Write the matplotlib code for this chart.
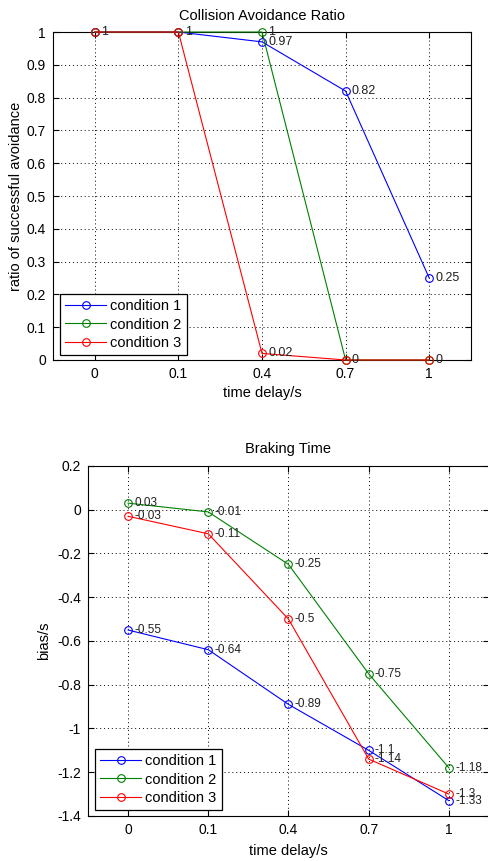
import matplotlib
matplotlib.use("Agg")
import matplotlib.pyplot as plt

OUT_PNG = "out.png"

DELAY_LABELS = ["0", "0.1", "0.4", "0.7", "1"]
SERIES_NAMES = ["condition 1", "condition 2", "condition 3"]
SERIES_COLORS = ["#0000ff", "#008000", "#ff0000"]

# collision avoidance ratio
RATIO_C1 = [1, 1, 0.97, 0.82, 0.25]
RATIO_C2 = [1, 1, 1, 0, 0]
RATIO_C3 = [1, 1, 0.02, 0, 0]

# braking time bias
BIAS_C1 = [-0.55, -0.64, -0.89, -1.1, -1.33]
BIAS_C2 = [0.03, -0.01, -0.25, -0.75, -1.18]
BIAS_C3 = [-0.03, -0.11, -0.5, -1.14, -1.3]

plt.rcParams['font.family'] = ['Liberation Sans', 'DejaVu Sans']


def style_axes(ax):
    ax.grid(True, color='black', linestyle=(0, (1, 3)), linewidth=0.7)
    ax.tick_params(direction='in', top=True, right=True, length=4,
                   labelsize=10, pad=5, color='black')
    for s in ax.spines.values():
        s.set_linewidth(0.8)
    ax.set_axisbelow(True)


def draw_series(ax, series, label_size):
    xs = list(range(len(DELAY_LABELS)))
    for vals, name, col in zip(series, SERIES_NAMES, SERIES_COLORS):
        ax.plot(xs, vals, '-o', color=col, lw=0.8, ms=5.5, mfc='none',
                mew=0.8, label=name, clip_on=False, zorder=3)
    # same value at same point -> one label only (they sit on top of each other)
    done = set()
    for vals in series:
        for x, v in zip(xs, vals):
            if (x, v) in done:
                continue
            done.add((x, v))
            ax.annotate(f"{v:g}", (x, v), xytext=(4.5, 0),
                        textcoords='offset points', va='center', ha='left',
                        fontsize=label_size, color='#202020', zorder=4,
                        annotation_clip=False)
    ax.set_xticks(xs)
    ax.set_xticklabels(DELAY_LABELS)
    ax.set_xlim(-0.5, len(xs) - 0.5)


def add_legend(ax, anchor):
    leg = ax.legend(loc='lower left', bbox_to_anchor=anchor, borderaxespad=0,
                    fontsize=10.5, fancybox=False, framealpha=1,
                    edgecolor='black', handlelength=2.8, handletextpad=0.3,
                    labelspacing=0.3, borderpad=0.35)
    leg.get_frame().set_linewidth(0.9)


def main():
    fig = plt.figure(figsize=(4.88, 8.61), dpi=100)

    ax1 = fig.add_axes([0.1086, 0.5819, 0.8566, 0.3809])
    style_axes(ax1)
    draw_series(ax1, [RATIO_C1, RATIO_C2, RATIO_C3], 9)
    ax1.set_ylim(0, 1)
    ax1.set_yticks([i / 10 for i in range(11)])
    ax1.set_yticklabels([f"{i / 10:g}" for i in range(11)])
    ax1.set_title('Collision Avoidance Ratio', fontsize=10.5, pad=9)
    ax1.set_xlabel('time delay/s', fontsize=10.5, labelpad=4)
    ax1.set_ylabel('ratio of successful avoidance', fontsize=10.5, labelpad=3)
    add_legend(ax1, (0.017, 0.015))

    ax2 = fig.add_axes([0.1803, 0.0523, 0.8217, 0.4065])
    style_axes(ax2)
    draw_series(ax2, [BIAS_C1, BIAS_C2, BIAS_C3], 8.5)
    ax2.set_ylim(-1.4, 0.2)
    ticks = [-1.4, -1.2, -1, -0.8, -0.6, -0.4, -0.2, 0, 0.2]
    ax2.set_yticks(ticks)
    ax2.set_yticklabels([f"{t:g}" for t in ticks])
    ax2.set_title('Braking Time', fontsize=10.5, pad=9)
    ax2.set_xlabel('time delay/s', fontsize=10.5, labelpad=5)
    ax2.set_ylabel('bias/s', fontsize=10.5, labelpad=4)
    add_legend(ax2, (0.0175, 0.017))

    fig.savefig(OUT_PNG, dpi=100)
    plt.close(fig)


if __name__ == "__main__":
    main()
